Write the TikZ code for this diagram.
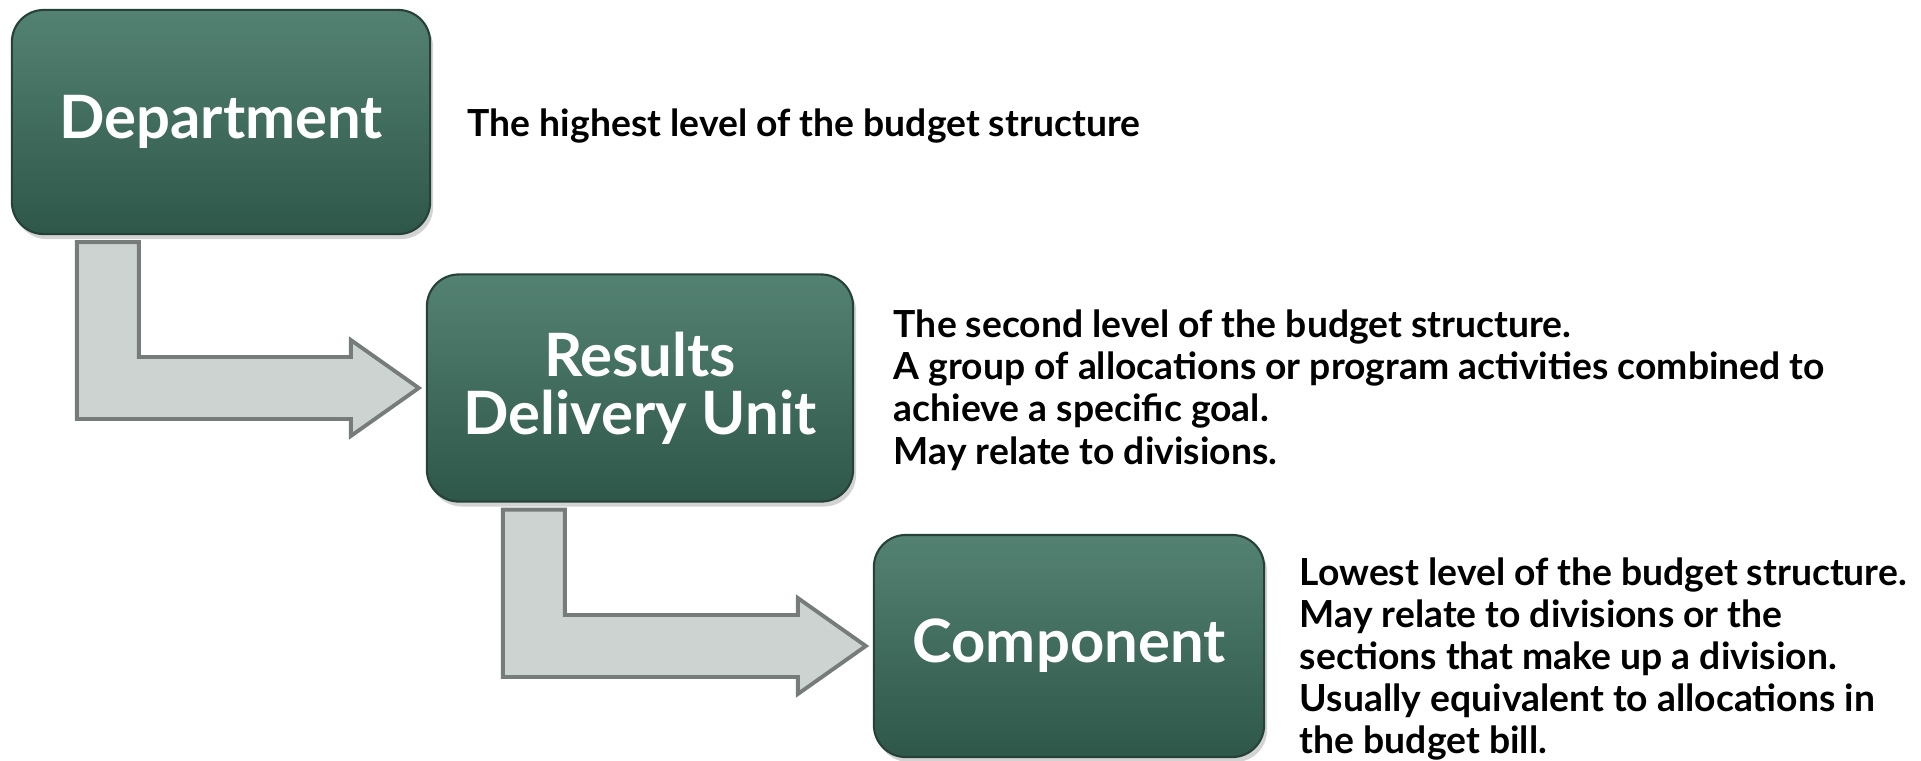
\documentclass[tikz,border=0pt]{standalone}
\usepackage{fontspec}
\setmainfont{Lato}
\usetikzlibrary{positioning,calc,shadows}

\definecolor{boxtop}{RGB}{84,130,114}
\definecolor{boxbottom}{RGB}{46,87,73}
\definecolor{boxedge}{RGB}{38,66,56}
\definecolor{arrowfill}{RGB}{205,211,208}
\definecolor{arrowedge}{RGB}{118,124,121}

\begin{document}
\begin{tikzpicture}[%
            x=0.01cm, y=-0.01cm,
            level/.style={rectangle, rounded corners=0.32cm, draw=boxedge,
                line width=0.6pt, top color=boxtop, bottom color=boxbottom,
                text=white, align=center,
                font=\fontsize{17}{16.5}\selectfont\bfseries,
                drop shadow={opacity=0.35, shadow xshift=0.03cm, shadow yshift=-0.05cm}},
            note/.style={inner sep=0pt, align=left,
                font=\fontsize{10.6}{12}\selectfont\bfseries},
            bent/.style={fill=arrowfill, draw=arrowedge, line width=1.1pt}
            ]
            \useasboundingbox (0,0) rectangle (1921,760);

            % the three levels
            \node[level, minimum width=4.18cm, minimum height=2.24cm] (dept) at (221,122) {Department};
            \node[level, minimum width=4.26cm, minimum height=2.27cm] (rdu) at (640,388) {Results\\Delivery Unit};
            \node[level, minimum width=3.90cm, minimum height=2.22cm] (comp) at (1069,646) {Component};

            % what each level means
            \node[note, right=0.36cm of dept, yshift=-0.04cm] (deptnote) {The highest level of the budget structure};
            \node[note, right=0.39cm of rdu, yshift=-0.02cm] (rdunote) {The second level of the budget structure.\\
                A group of allocations or program activities combined to\\
                achieve a specific goal.\\
                May relate to divisions.};
            \node[note, right=0.34cm of comp, yshift=-0.13cm] (compnote) {Lowest level of the budget structure.\\
                May relate to divisions or the\\
                sections that make up a division.\\
                Usually equivalent to allocations in\\
                the budget bill.};

            % bent arrows down to the next level
            \foreach \from/\to/\dx in {dept/rdu/66, rdu/comp/77} {
                \coordinate (s) at ($(\from.south west)+(\dx,7)$);
                \coordinate (t) at ($(\to.west)+(-7,0)$);
                \draw[bent] (s) -- ++(62,0) -- ($(s|-t)+(62,-31)$)
                    -- ($(t)+(-68,-31)$) -- ($(t)+(-68,-48)$) -- (t)
                    -- ($(t)+(-68,48)$) -- ($(t)+(-68,31)$)
                    -- ($(s|-t)+(0,31)$) -- cycle;
            }

        \end{tikzpicture}
\end{document}
